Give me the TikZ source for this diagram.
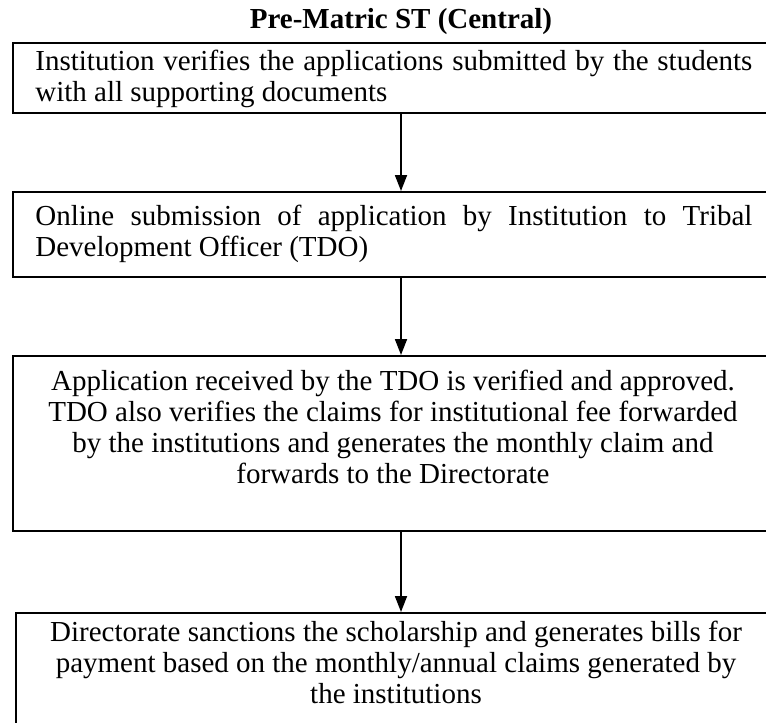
\documentclass[tikz,border=0pt]{standalone}
\usepackage{fontspec}
\setmainfont{Liberation Serif}
\usetikzlibrary{arrows.meta}
% invisible rule fixing the height of the first line of a text block
\newcommand\firststrut{\rule{0pt}{13pt}}
% a line stretched to the full measure, as in a justified paragraph
\newcommand\fullline[1]{\makebox[358.5pt][s]{#1}}
\begin{document}
\begin{tikzpicture}[x=0.5pt,y=-0.5pt,
  box/.style={draw, line width=1pt, inner sep=0pt, anchor=north west},
  flowtext/.style={inner sep=0pt, font=\fontsize{14.5pt}{15.5pt}\selectfont},
  just/.style={flowtext, anchor=north west, align=left},
  mid/.style={flowtext, anchor=north, align=center},
  link/.style={line width=0.9pt, -{Triangle[width=6pt,length=8pt]}}]
\useasboundingbox (0,0) rectangle (766,723);

\node[inner sep=0pt, anchor=base, font=\fontsize{14.5pt}{15.5pt}\selectfont\bfseries] (title) at (401,28) {Pre-Matric ST (Central)};

% step boxes
\node[box, minimum width=388pt, minimum height=35pt] (b1) at (12,42) {};
\node[box, minimum width=388pt, minimum height=42.5pt] (b2) at (12,191) {};
\node[box, minimum width=388pt, minimum height=87.5pt] (b3) at (12,355) {};
\node[box, minimum width=385pt, minimum height=80pt] (b4) at (15,612) {};

% step texts
\node[just] (t1) at (35,70-26) {\firststrut\fullline{Institution verifies the applications submitted by the students}\\
with all supporting documents};
\node[just] (t2) at (35,225-26) {\firststrut\fullline{Online submission of application by Institution to Tribal}\\
Development Officer (TDO)};
\node[mid] (t3) at (393,390-26) {\firststrut Application received by the TDO is verified and approved.\\
TDO also verifies the claims for institutional fee forwarded\\
by the institutions and generates the monthly claim and\\
forwards to the Directorate};
\node[mid] (t4) at (396,641-26) {\firststrut Directorate sanctions the scholarship and generates bills for\\
payment based on the monthly/annual claims generated by\\
the institutions};

% connectors
\draw[link] (b1.south) -- (b2.north);
\draw[link] (b2.south) -- (b3.north);
\draw[link] (b3.south) -- (b4.north);
\end{tikzpicture}
\end{document}
